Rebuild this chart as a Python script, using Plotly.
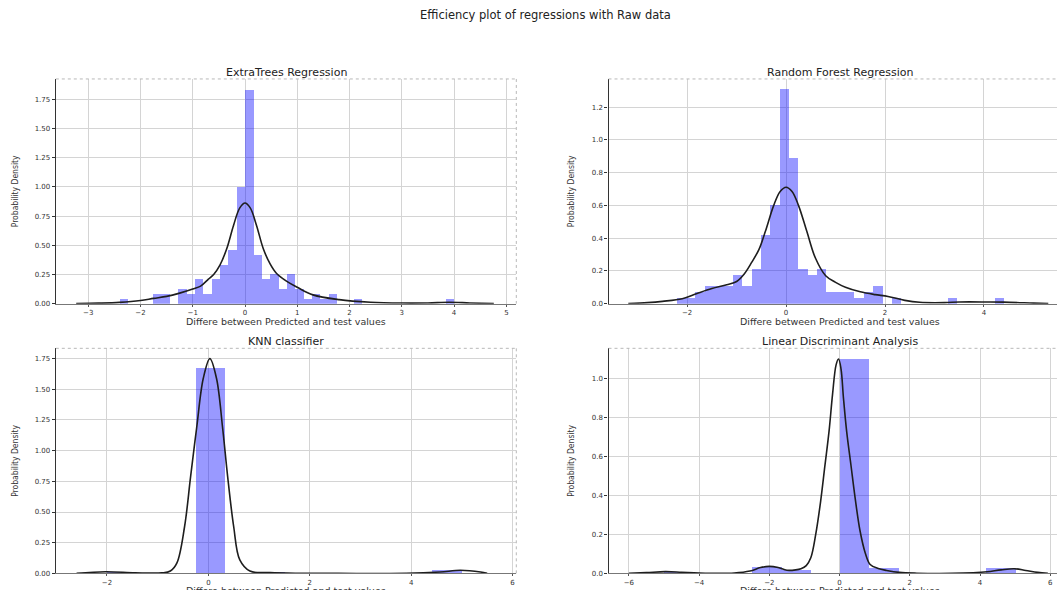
import numpy as np
import plotly.graph_objects as go

W, H = 1057, 590

# ---------------- data ----------------
suptitle = "Efficiency plot of regressions with Raw data"
titles = ["ExtraTrees Regression", "Random Forest Regression", "KNN classifier", "Linear Discriminant Analysis"]
x_label = "Differe between Predicted and test values"
y_label = "Probability Density"

# histogram bins (start, width) and densities
et_bin_start, et_bin_width = -2.4, 0.16
et_density = [0.042, 0, 0, 0, 0.083, 0.083, 0, 0.125, 0.083, 0.208, 0.083, 0.208, 0.333, 0.458, 1.0, 1.833,
              0.417, 0.208, 0.25, 0.125, 0.25, 0.125, 0.042, 0.083, 0.042, 0.083, 0, 0, 0.042, 0,
              0, 0, 0, 0, 0, 0, 0, 0, 0, 0.042]
rf_bin_start, rf_bin_width = -2.223, 0.1892
rf_density = [0.035, 0.035, 0.07, 0.105, 0.105, 0.105, 0.175, 0.105, 0.21, 0.42, 0.60, 1.31, 0.89, 0.21, 0.175,
              0.21, 0.07, 0.07, 0.07, 0.035, 0.07, 0.105, 0, 0.035, 0, 0, 0, 0, 0, 0.035, 0, 0, 0, 0, 0.035]
knn_bin_start, knn_bin_width = -2.0, 0.5833
knn_density = [0.012, 0, 0, 1.667, 0, 0.012, 0, 0, 0, 0, 0, 0.024]
lda_bin_start, lda_bin_width = -5.0, 0.8333
lda_density = [0.008, 0, 0, 0.033, 0.017, 0, 1.10, 0.025, 0, 0, 0, 0.025]

# KDE curves
et_kde_x = [-3.23, -2.8, -2.4, -2.0, -1.75, -1.5, -1.25, -1.0, -0.85, -0.7, -0.6, -0.48, -0.35, -0.22, -0.1, 0.0,
            0.1, 0.22, 0.35, 0.48, 0.6, 0.8, 1.0, 1.3, 1.8, 2.4, 3.0, 3.5, 3.9, 4.3, 4.76]
et_kde_y = [0.0, 0.004, 0.011, 0.027, 0.045, 0.062, 0.09, 0.125, 0.15, 0.21, 0.25, 0.33, 0.47, 0.67, 0.82, 0.862,
            0.82, 0.67, 0.47, 0.34, 0.26, 0.19, 0.14, 0.075, 0.034, 0.012, 0.005, 0.006, 0.012, 0.006, 0.0]
rf_kde_x = [-3.19, -2.8, -2.5, -2.1, -1.8, -1.5, -1.2, -1.0, -0.85, -0.7, -0.55, -0.42, -0.25, -0.12, 0.0, 0.12,
            0.25, 0.42, 0.59, 0.8, 1.0, 1.2, 1.5, 1.8, 2.06, 2.4, 2.7, 3.2, 3.5, 4.06, 4.4, 5.0, 5.3]
rf_kde_y = [0.0, 0.006, 0.014, 0.03, 0.062, 0.092, 0.115, 0.135, 0.18, 0.25, 0.33, 0.44, 0.60, 0.685, 0.711, 0.685,
            0.60, 0.44, 0.28, 0.17, 0.13, 0.1, 0.072, 0.055, 0.044, 0.02, 0.008, 0.006, 0.01, 0.01, 0.009, 0.003, 0.0]
knn_kde_x = [-2.6, -2.03, -1.45, -0.92, -0.75, -0.62, -0.47, -0.35, -0.23, -0.1, 0.03, 0.16, 0.28, 0.38, 0.5,
             0.62, 0.82, 1.22, 1.8, 2.56, 3.9, 4.57, 4.97, 5.37, 5.5]
knn_kde_y = [0.0, 0.013, 0.005, 0.004, 0.019, 0.086, 0.38, 0.79, 1.19, 1.59, 1.75, 1.59, 1.19, 0.79, 0.38,
             0.11, 0.019, 0.006, 0.001, 0.0, 0.0, 0.011, 0.025, 0.011, 0.0]
lda_kde_x = [-6.0, -5.5, -4.96, -4.5, -4.0, -3.0, -2.55, -2.25, -2.0, -1.75, -1.5, -1.25, -1.1, -0.95, -0.82,
             -0.68, -0.54, -0.42, -0.3, -0.2, -0.1, -0.03, 0.04, 0.11, 0.2, 0.32, 0.44, 0.58, 0.73, 0.87, 1.1,
             1.34, 1.7, 2.2, 3.2, 3.8, 4.2, 4.6, 4.97, 5.3, 5.64, 5.93]
lda_kde_y = [0.0, 0.004, 0.009, 0.006, 0.002, 0.002, 0.012, 0.03, 0.036, 0.03, 0.016, 0.018, 0.024, 0.04, 0.08,
             0.2, 0.37, 0.55, 0.73, 0.92, 1.07, 1.10, 1.05, 0.9, 0.73, 0.56, 0.39, 0.22, 0.105, 0.046, 0.025,
             0.015, 0.005, 0.001, 0.0, 0.003, 0.008, 0.018, 0.024, 0.015, 0.005, 0.0]

# ticks
et_xticks = [-3, -2, -1, 0, 1, 2, 3, 4, 5]
et_yticks = [0, 0.25, 0.5, 0.75, 1.0, 1.25, 1.5, 1.75]
rf_xticks = [-2, 0, 2, 4]
rf_yticks = [0, 0.2, 0.4, 0.6, 0.8, 1.0, 1.2]
knn_xticks = [-2, 0, 2, 4, 6]
knn_yticks = [0, 0.25, 0.5, 0.75, 1.0, 1.25, 1.5, 1.75]
lda_xticks = [-6, -4, -2, 0, 2, 4, 6]
lda_yticks = [0, 0.2, 0.4, 0.6, 0.8, 1.0]

# ---------------- layout geometry (pixels) ----------------
LEFT_X = (55.8, 516.3)
RIGHT_X = (608.5, 1057.0)
RIGHT_FULL_CENTER = 839.6
TOP_Y = (79.5, 305.7)
BOT_Y = (350.7, 577.3)

def px(xp):
    return xp / W

def py(yp):
    return 1 - yp / H

panels = [
    dict(bins=(et_bin_start, et_bin_width), dens=et_density, kx=et_kde_x, ky=et_kde_y,
         xr=[-3.62, 5.19], yr=[0, 1.925], xt=et_xticks, yt=et_yticks, yfmt="{:.2f}",
         xd=LEFT_X, yd=TOP_Y, cx=sum(LEFT_X) / 2, ylab_x=15),
    dict(bins=(rf_bin_start, rf_bin_width), dens=rf_density, kx=rf_kde_x, ky=rf_kde_y,
         xr=[-3.59, 5.476], yr=[0, 1.372], xt=rf_xticks, yt=rf_yticks, yfmt="{:.1f}",
         xd=RIGHT_X, yd=TOP_Y, cx=RIGHT_FULL_CENTER, ylab_x=571),
    dict(bins=(knn_bin_start, knn_bin_width), dens=knn_density, kx=knn_kde_x, ky=knn_kde_y,
         xr=[-3.01, 6.075], yr=[0, 1.834], xt=knn_xticks, yt=knn_yticks, yfmt="{:.2f}",
         xd=LEFT_X, yd=BOT_Y, cx=sum(LEFT_X) / 2, ylab_x=15),
    dict(bins=(lda_bin_start, lda_bin_width), dens=lda_density, kx=lda_kde_x, ky=lda_kde_y,
         xr=[-6.58, 6.19], yr=[0, 1.155], xt=lda_xticks, yt=lda_yticks, yfmt="{:.1f}",
         xd=RIGHT_X, yd=BOT_Y, cx=RIGHT_FULL_CENTER, ylab_x=571),
]

fig = go.Figure()
annotations = []
shapes = []
tick_font = dict(family="DejaVu Sans", size=7, color="#333333")
GRID = "#d4d4d4"

for i, p in enumerate(panels):
    n = i + 1
    xa = "x" if n == 1 else f"x{n}"
    ya = "y" if n == 1 else f"y{n}"
    start, width = p["bins"]
    lefts = [start + k * width for k in range(len(p["dens"]))]
    fig.add_trace(go.Bar(x=lefts, y=p["dens"], width=width, offset=0,
                         marker=dict(color="rgba(0,0,255,0.4)", line=dict(width=0)),
                         xaxis=xa, yaxis=ya, showlegend=False, hoverinfo="skip"))
    fig.add_trace(go.Scatter(x=p["kx"], y=p["ky"], mode="lines",
                             line=dict(color="#1e1e1e", width=1.6, shape="spline", smoothing=1.0),
                             xaxis=xa, yaxis=ya, showlegend=False, hoverinfo="skip"))
    xkey = "xaxis" if n == 1 else f"xaxis{n}"
    ykey = "yaxis" if n == 1 else f"yaxis{n}"
    fig.update_layout({
        xkey: dict(domain=[px(p["xd"][0]), px(p["xd"][1])], range=p["xr"], anchor=ya,
                   tickvals=p["xt"], ticktext=[("−" + str(abs(v))) if v < 0 else str(v) for v in p["xt"]],
                   showgrid=True, gridcolor=GRID, gridwidth=1.4, zeroline=False,
                   showline=True, linecolor="#777777", linewidth=1,
                   ticks="outside", ticklen=2, tickcolor="#555555", tickfont=tick_font, fixedrange=True),
        ykey: dict(domain=[py(p["yd"][1]), py(p["yd"][0])], range=p["yr"], anchor=xa,
                   tickvals=p["yt"], ticktext=[p["yfmt"].format(v) for v in p["yt"]],
                   showgrid=True, gridcolor=GRID, gridwidth=1, zeroline=False,
                   showline=True, linecolor="#333333", linewidth=1.3,
                   ticks="outside", ticklen=3, tickcolor="#333333", tickfont=tick_font, fixedrange=True),
    })
    # subplot title
    annotations.append(dict(text=titles[i], x=px(p["cx"]), y=py(p["yd"][0] - 6.5), xref="paper", yref="paper",
                            xanchor="center", yanchor="middle", showarrow=False,
                            font=dict(family="DejaVu Sans", size=11, color="#222222")))
    # x label
    annotations.append(dict(text=x_label, x=px(p["cx"]), y=py(p["yd"][1] + 17.5), xref="paper", yref="paper",
                            xanchor="center", yanchor="middle", showarrow=False,
                            font=dict(family="DejaVu Sans", size=9.5, color="#333333")))
    # y label
    annotations.append(dict(text=y_label, x=px(p["ylab_x"]), y=py(sum(p["yd"]) / 2), xref="paper", yref="paper",
                            xanchor="center", yanchor="middle", showarrow=False, textangle=-90,
                            font=dict(family="DejaVu Sans Condensed, Liberation Sans Narrow, DejaVu Sans",
                                      size=8.5, color="#333333")))
    # top / right frame (dotted, light)
    shapes.append(dict(type="line", xref="paper", yref="paper", x0=px(p["xd"][0]), x1=px(p["xd"][1]),
                       y0=py(p["yd"][0]), y1=py(p["yd"][0]), line=dict(color="#b8b8b8", width=1, dash="dot")))
    if p["xd"][1] < W:
        shapes.append(dict(type="line", xref="paper", yref="paper", x0=px(p["xd"][1]), x1=px(p["xd"][1]),
                           y0=py(p["yd"][0]), y1=py(p["yd"][1]), line=dict(color="#b8b8b8", width=1, dash="dot")))

annotations.append(dict(text=suptitle, x=px(545), y=py(15), xref="paper", yref="paper",
                        xanchor="center", yanchor="middle", showarrow=False,
                        font=dict(family="DejaVu Sans", size=11.5, color="#222222")))

fig.update_layout(width=W, height=H, margin=dict(l=0, r=0, t=0, b=0),
                  paper_bgcolor="white", plot_bgcolor="white",
                  bargap=0, annotations=annotations, shapes=shapes)

fig.write_html("out.html")
